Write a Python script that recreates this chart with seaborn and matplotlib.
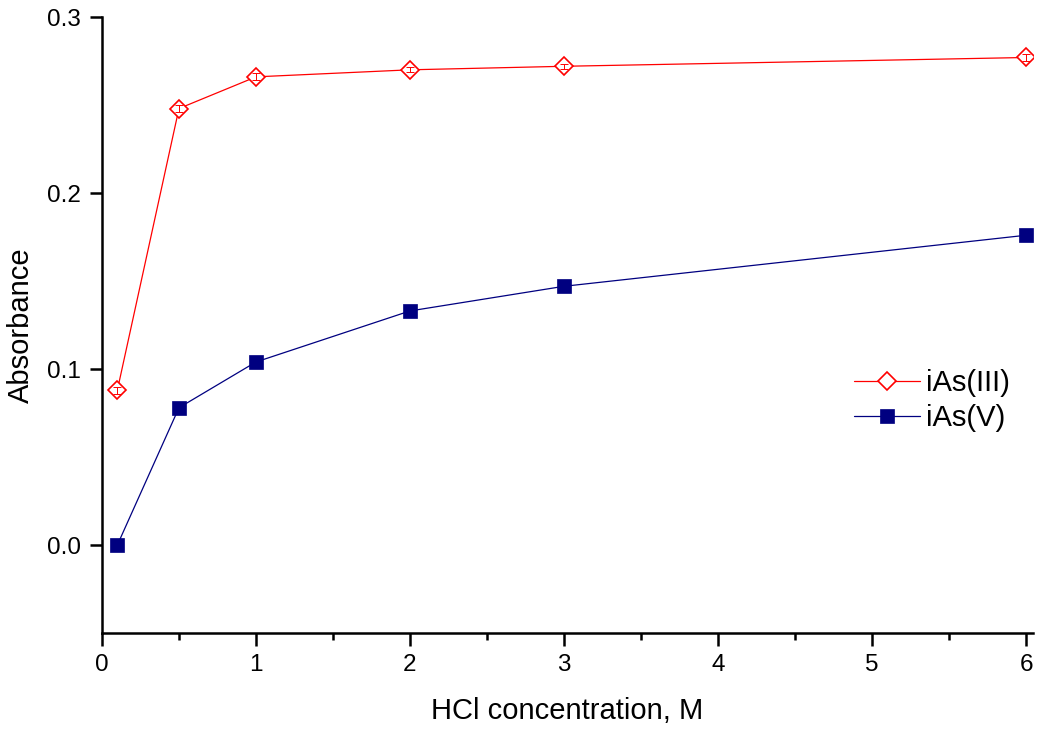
import matplotlib
matplotlib.use("Agg")
import matplotlib.pyplot as plt
import seaborn as sns
import pandas as pd
import numpy as np

# Data
hcl = [0.1, 0.5, 1, 2, 3, 6]
as3 = [0.088, 0.248, 0.266, 0.270, 0.272, 0.277]
as3_err = [0.002, 0.002, 0.002, 0.0015, 0.0015, 0.002]
as5 = [0.000, 0.078, 0.104, 0.133, 0.147, 0.176]
x_ticks = [0, 1, 2, 3, 4, 5, 6]
y_ticks = [0.0, 0.1, 0.2, 0.3]

sns.set_theme(style="ticks")
plt.rcParams['font.family'] = ['Liberation Sans', 'DejaVu Sans']
plt.rcParams['text.color'] = 'black'
plt.rcParams['axes.labelcolor'] = 'black'

fig = plt.figure(figsize=(10.5, 7.33), dpi=100)
ax = fig.add_axes([0.0971, 0.1364, 0.9838 - 0.0971, 0.9768 - 0.1364])

red = '#FF0000'
navy = '#000080'

sns.lineplot(x=hcl, y=as3, ax=ax, color=red, linewidth=0.9, marker='D', markersize=9.5,
             markerfacecolor='white', markeredgecolor=red, markeredgewidth=1.2,
             label='iAs(III)', zorder=3)
ax.errorbar(hcl, as3, yerr=as3_err, fmt='none', ecolor=red, elinewidth=0.7, capsize=3,
            capthick=0.7, zorder=4)
sns.lineplot(x=hcl, y=as5, ax=ax, color=navy, linewidth=0.9, marker='s', markersize=9.5,
             markerfacecolor=navy, markeredgecolor=navy, markeredgewidth=0.5,
             label='iAs(V)', zorder=3)

ax.set_xlim(0, 6.045)
ax.set_ylim(-0.05, 0.3)
ax.set_xticks(x_ticks)
ax.set_xticklabels([str(t) for t in x_ticks])
ax.set_xticks([0.5, 1.5, 2.5, 3.5, 4.5, 5.5], minor=True)
ax.set_yticks(y_ticks)
ax.set_yticklabels([f"{t:.1f}" for t in y_ticks])

for s in ['top', 'right']:
    ax.spines[s].set_visible(False)
for s in ['left', 'bottom']:
    ax.spines[s].set_linewidth(1.8)
    ax.spines[s].set_color('black')

ax.tick_params(axis='both', which='major', direction='out', length=9, width=1.8,
               labelsize=17.5, colors='black', labelcolor='black', pad=6)
ax.tick_params(axis='x', which='minor', direction='out', length=5, width=1.8, colors='black')

ax.set_xlabel('HCl concentration, M', fontsize=21, labelpad=15)
ax.set_ylabel('Absorbance', fontsize=21, labelpad=9)

leg = ax.legend(loc='center left', bbox_to_anchor=(0.808, 0.377), frameon=False,
                fontsize=21, handlelength=2.25, handletextpad=0.2, labelspacing=0.25,
                borderpad=0, borderaxespad=0)

fig.savefig('out.png', dpi=100)
